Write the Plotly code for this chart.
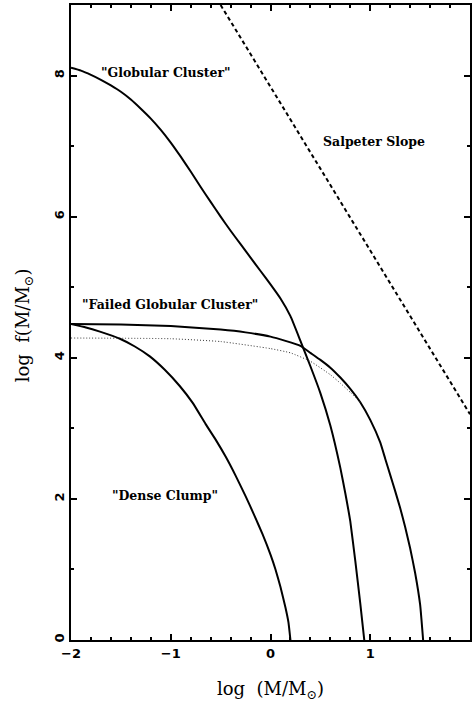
import plotly.graph_objects as go

# Globular cluster curve
gc_x = [-2.0, -1.9, -1.8, -1.7, -1.6, -1.5, -1.4, -1.3, -1.2, -1.1, -1.0, -0.9, -0.8, -0.7, -0.6, -0.5,
        -0.4, -0.3, -0.2, -0.1, 0.0, 0.1, 0.2, 0.3, 0.4, 0.5, 0.6, 0.7, 0.75, 0.8, 0.85, 0.9, 0.94]
gc_y = [8.11, 8.07, 8.01, 7.94, 7.86, 7.77, 7.66, 7.53, 7.39, 7.23, 7.05, 6.85, 6.64, 6.42, 6.21, 6.00,
        5.80, 5.61, 5.42, 5.23, 5.04, 4.84, 4.59, 4.24, 3.88, 3.50, 3.04, 2.44, 2.08, 1.68, 1.12, 0.52, 0.0]

# Failed globular cluster curve
fgc_x = [-2.0, -1.5, -1.0, -0.5, -0.25, 0.0, 0.15, 0.3, 0.4, 0.5, 0.6, 0.7, 0.8, 0.9, 1.0, 1.1,
         1.15, 1.2, 1.25, 1.3, 1.35, 1.4, 1.45, 1.5, 1.53]
fgc_y = [4.48, 4.47, 4.45, 4.40, 4.36, 4.30, 4.24, 4.17, 4.07, 3.97, 3.86, 3.72, 3.56, 3.37, 3.12, 2.80,
         2.57, 2.34, 2.11, 1.87, 1.60, 1.30, 0.95, 0.50, 0.0]

# Dotted curve
dot_x = [-2.0, -1.0, -0.5, 0.0, 0.2, 0.4, 0.6, 0.7, 0.8, 0.9]
dot_y = [4.28, 4.27, 4.23, 4.13, 4.07, 3.95, 3.76, 3.64, 3.51, 3.37]

# Dense clump curve
dc_x = [-2.0, -1.85, -1.71, -1.51, -1.36, -1.21, -1.06, -0.91, -0.78, -0.65, -0.55, -0.45, -0.35,
        -0.25, -0.16, -0.08, 0.0, 0.05, 0.10, 0.15, 0.18, 0.20]
dc_y = [4.48, 4.43, 4.37, 4.27, 4.16, 4.02, 3.83, 3.60, 3.36, 3.06, 2.84, 2.60, 2.33,
        2.04, 1.76, 1.50, 1.21, 1.00, 0.75, 0.46, 0.25, 0.0]

# Salpeter slope line
sal_x = [-0.5, 2.0]
sal_y = [9.0, 3.2]

labels = ['"Globular Cluster"', 'Salpeter Slope', '"Failed Globular Cluster"', '"Dense Clump"']
label_x = [-1.047, 1.04, -1.007, -1.06]
label_y = [8.05, 7.06, 4.76, 2.05]

x_ticks = [-2, -1, 0, 1, 2]
y_ticks = [0, 2, 4, 6, 8]

fig = go.Figure()
solid = dict(color="black", width=2)
fig.add_trace(go.Scatter(x=gc_x, y=gc_y, mode="lines", line=dict(shape="spline", smoothing=0.4, **solid)))
fig.add_trace(go.Scatter(x=fgc_x, y=fgc_y, mode="lines", line=dict(shape="spline", smoothing=0.4, **solid)))
fig.add_trace(go.Scatter(x=dot_x, y=dot_y, mode="lines", line=dict(color="#333333", width=1, dash="1px,2px", shape="spline", smoothing=0.4)))
fig.add_trace(go.Scatter(x=dc_x, y=dc_y, mode="lines", line=dict(shape="spline", smoothing=0.4, **solid)))
fig.add_trace(go.Scatter(x=sal_x, y=sal_y, mode="lines", line=dict(color="black", width=2, dash="4px,3px")))

lab_font = dict(family="DejaVu Serif", size=12.5, color="black", weight="bold")
for t, x, y in zip(labels, label_x, label_y):
    fig.add_annotation(x=x, y=y, text=t, showarrow=False, font=lab_font, xanchor="center", yanchor="middle")

fig.add_annotation(xref="paper", yref="paper", x=0.501, y=-0.079, text="log  (M/M<sub>⊙</sub>)",
                   xanchor="center", yanchor="middle",
                   showarrow=False, font=dict(family="DejaVu Serif", size=18, color="black"))
fig.add_annotation(xref="paper", yref="paper", x=-0.117, y=0.496, text="log  f(M/M<sub>⊙</sub>)",
                   xanchor="center", yanchor="middle",
                   showarrow=False, textangle=-90, font=dict(family="DejaVu Serif", size=18, color="black"))

tickfont = dict(family="DejaVu Sans", size=13, color="black", weight="bold")
fig.update_xaxes(range=[-2, 2], tickvals=x_ticks, ticktext=[str(v).replace("-", "−") for v in x_ticks],
                 ticks="inside", ticklen=6, tickwidth=1.5, tickcolor="black",
                 minor=dict(dtick=0.2, ticks="inside", ticklen=3, tickcolor="black"),
                 showline=True, linecolor="black", linewidth=2, mirror="ticks",
                 showgrid=False, zeroline=False, tickfont=tickfont)
fig.update_yaxes(range=[0, 9], tickvals=y_ticks, tickangle=-90,
                 ticks="inside", ticklen=6, tickwidth=1.5, tickcolor="black",
                 minor=dict(dtick=1, ticks="inside", ticklen=3, tickcolor="black"),
                 showline=True, linecolor="black", linewidth=2, mirror="ticks",
                 showgrid=False, zeroline=False, tickfont=tickfont)
fig.update_layout(width=474, height=707, margin=dict(l=71, r=2, t=5, b=67),
                  plot_bgcolor="white", paper_bgcolor="white", showlegend=False)
fig.write_html("out.html", config={"displayModeBar": False},
               post_script="document.body.style.margin='0';document.body.style.overflow='hidden';")
